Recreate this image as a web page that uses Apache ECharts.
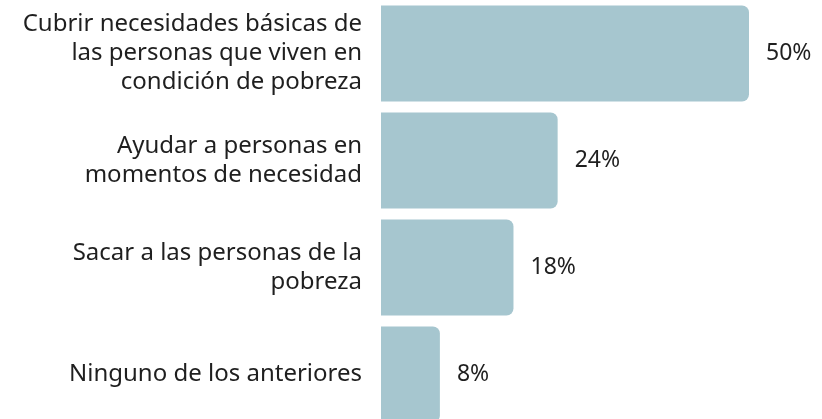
<!DOCTYPE html>
<html>
<head>
<meta charset="utf-8">
<script src="https://cdn.jsdelivr.net/npm/echarts@6/dist/echarts.min.js"></script>
<style>
  html, body { margin: 0; padding: 0; background: #fff; }
  #chart { width: 822px; height: 419px; }
</style>
</head>
<body>
<div id="chart"></div>
<script>
// categorías (con saltos de línea como en la imagen)
const categorias = [
    'Cubrir necesidades básicas de\nlas personas que viven en\ncondición de pobreza',
    'Ayudar a personas en\nmomentos de necesidad',
    'Sacar a las personas de la\npobreza',
    'Ninguno de los anteriores'
];
const valores = [50, 24, 18, 8];

const myChart = echarts.init(document.getElementById('chart'));
let option;

option = {
    animation: false,
    grid: {
        left: 381,
        right: 73,
        top: 0,
        height: 428,
        outerBoundsMode: 'none'
    },
    xAxis: {
        type: 'value',
        min: 0,
        max: 50,
        show: false
    },
    yAxis: {
        type: 'category',
        inverse: true,
        data: categorias,
        axisLine: { show: false },
        axisTick: { show: false },
        axisLabel: {
            margin: 19,
            align: 'right',
            color: '#1f1f1f',
            fontSize: 24,
            lineHeight: 29,
            fontFamily: 'Noto Sans'
        }
    },
    series: [
        {
            type: 'bar',
            data: valores,
            barWidth: 96,
            itemStyle: {
                color: '#a6c6cf',
                borderRadius: [0, 7, 7, 0]
            },
            label: {
                show: true,
                position: 'right',
                distance: 17,
                formatter: '{c}%',
                color: '#1f1f1f',
                fontSize: 23,
                fontFamily: 'Noto Sans'
            }
        }
    ]
};

option && myChart.setOption(option);
</script>
</body>
</html>
